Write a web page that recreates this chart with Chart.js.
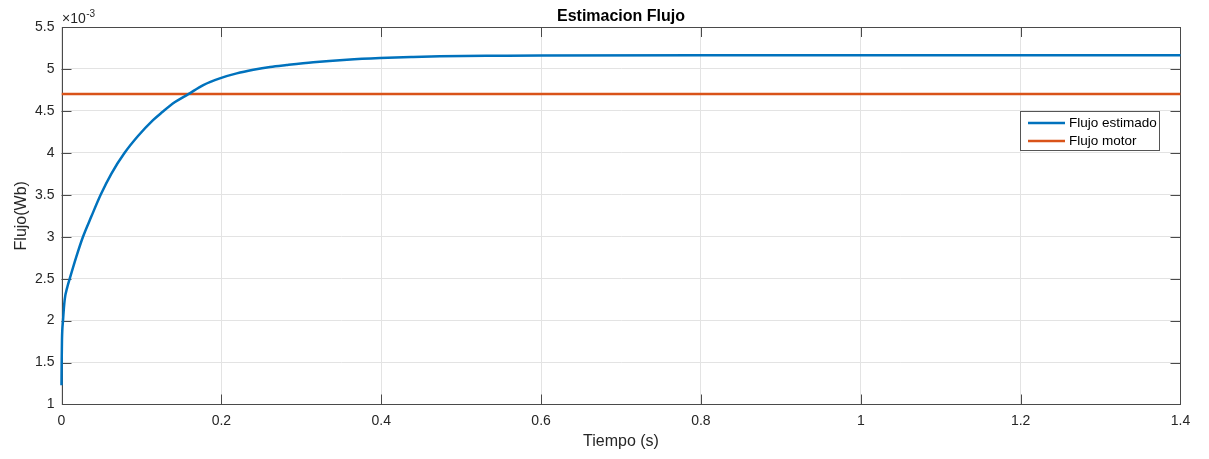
<!DOCTYPE html>
<html>
<head>
<meta charset="utf-8">
<title>Estimacion Flujo</title>
<script src="https://cdn.jsdelivr.net/npm/chart.js@4/dist/chart.umd.min.js"></script>
<style>
  html, body { margin: 0; padding: 0; background: #fff; }
  #wrap { width: 1209px; height: 459px; }
</style>
</head>
<body>
<div id="wrap"><canvas id="fluxChart" width="1209" height="459"></canvas></div>
<script>
// flux values are in units of 1e-3 Wb (shown as x10^-3 over the axis)
var tiempoEst = [0, 0.0002, 0.0006, 0.0019, 0.004, 0.0073, 0.0103, 0.0185, 0.0269, 0.0373,
                 0.049, 0.0623, 0.079, 0.0957, 0.1145, 0.1254, 0.142, 0.1587, 0.1774, 0.198,
                 0.2192, 0.24, 0.261, 0.2817, 0.315, 0.357, 0.3985, 0.44, 0.4735, 0.549,
                 0.6, 0.8, 1.0, 1.2, 1.4];
var flujoEst   = [1.23, 1.49, 1.77, 2.0, 2.25, 2.40, 2.50, 2.76, 3.00, 3.24,
                  3.50, 3.75, 4.00, 4.20, 4.39, 4.48, 4.605, 4.70, 4.808, 4.888,
                  4.947, 4.99, 5.024, 5.047, 5.08, 5.11, 5.13, 5.143, 5.151, 5.158,
                  5.161, 5.162, 5.162, 5.162, 5.162];
var tiempoMotor = [0, 1.4];
var flujoMotor  = [4.7, 4.7];

var xTicks = [0, 0.2, 0.4, 0.6, 0.8, 1, 1.2, 1.4];
var yTicks = [1, 1.5, 2, 2.5, 3, 3.5, 4, 4.5, 5, 5.5];

var FONT = "'Liberation Sans', Arial, Helvetica, sans-serif";
var AXIS_COLOR = '#4a4a4a';
var TEXT_COLOR = '#262626';

function toPoints(xs, ys){
	var pts = [];
	for (var i = 0; i < xs.length; i++) { pts.push({x: xs[i], y: ys[i]}); }
	return pts;
}

function fmt(v){ return String(+v.toFixed(2)); }

//box, inward ticks, title, exponent and legend like a matlab figure
var matlabAxes = {
	id: 'matlabAxes',
	beforeDatasetsDraw: function(chart){
		var ctx = chart.ctx, a = chart.chartArea;
		var sx = chart.scales.x, sy = chart.scales.y;
		var tl = 10;
		ctx.save();
		ctx.strokeStyle = AXIS_COLOR;
		ctx.lineWidth = 1;
		ctx.beginPath();
		xTicks.forEach(function(v){
			var px = Math.round(sx.getPixelForValue(v)) + 0.5;
			if (v === xTicks[0] || v === xTicks[xTicks.length-1]) return;
			ctx.moveTo(px, a.bottom); ctx.lineTo(px, a.bottom - tl);
			ctx.moveTo(px, a.top); ctx.lineTo(px, a.top + tl);
		});
		yTicks.forEach(function(v){
			var py = Math.round(sy.getPixelForValue(v)) + 0.5;
			if (v === yTicks[0] || v === yTicks[yTicks.length-1]) return;
			ctx.moveTo(a.left, py); ctx.lineTo(a.left + tl, py);
			ctx.moveTo(a.right, py); ctx.lineTo(a.right - tl, py);
		});
		ctx.stroke();
		ctx.strokeRect(Math.round(a.left) + 0.5, Math.round(a.top) + 0.5,
			Math.round(a.right - a.left) - 1, Math.round(a.bottom - a.top) - 1);
		ctx.restore();
	},
	afterDraw: function(chart){
		var ctx = chart.ctx, a = chart.chartArea;
		ctx.save();
		// title
		ctx.fillStyle = '#000';
		ctx.font = 'bold 16px ' + FONT;
		ctx.textAlign = 'center';
		ctx.textBaseline = 'alphabetic';
		ctx.fillText('Estimacion Flujo', (a.left + a.right) / 2, 21);
		// exponent of the y axis
		ctx.fillStyle = TEXT_COLOR;
		ctx.textAlign = 'left';
		ctx.font = '14px ' + FONT;
		ctx.fillText('\u00d710', a.left + 0.5, 22.5);
		var w = ctx.measureText('\u00d710').width;
		ctx.font = '10px ' + FONT;
		ctx.fillText('-3', a.left + 1 + w, 16.5);
		// legend box inside the axes
		var lx = 1020.5, ly = 111.5, lw = 139, lh = 39;
		ctx.fillStyle = '#fff';
		ctx.fillRect(lx, ly, lw, lh);
		ctx.strokeStyle = '#555';
		ctx.lineWidth = 1;
		ctx.strokeRect(lx, ly, lw, lh);
		ctx.font = '13.5px ' + FONT;
		ctx.textBaseline = 'middle';
		chart.data.datasets.forEach(function(ds, i){
			var cy = 123 + i * 18;
			ctx.strokeStyle = ds.borderColor;
			ctx.lineWidth = 2.5;
			ctx.beginPath();
			ctx.moveTo(1028, cy); ctx.lineTo(1065, cy);
			ctx.stroke();
			ctx.fillStyle = '#000';
			ctx.fillText(ds.label, 1069, cy + 0.5);
		});
		ctx.restore();
	}
};

new Chart(document.getElementById('fluxChart'), {
	type: 'line',
	data: {
		datasets: [{
			label: 'Flujo estimado',
			data: toPoints(tiempoEst, flujoEst),
			borderColor: '#0072BD',
			borderWidth: 2.5,
			pointRadius: 0,
			cubicInterpolationMode: 'monotone',
			clip: 3,
			fill: false
		}, {
			label: 'Flujo motor',
			data: toPoints(tiempoMotor, flujoMotor),
			borderColor: '#D95319',
			borderWidth: 2.5,
			pointRadius: 0,
			fill: false
		}]
	},
	options: {
		responsive: false,
		animation: false,
		devicePixelRatio: 1,
		layout: { padding: { left: 0, top: 27, right: 28.5, bottom: 0 } },
		plugins: {
			legend: { display: false },
			title: { display: false },
			tooltip: { enabled: false }
		},
		scales: {
			x: {
				type: 'linear',
				min: 0, max: 1.4,
				afterBuildTicks: function(s){ s.ticks = xTicks.map(function(v){ return {value: v}; }); },
				afterFit: function(s){ s.height = 54.5; },
				grid: { color: '#e3e3e3', drawTicks: false },
				border: { display: false },
				ticks: {
					padding: 8,
					color: TEXT_COLOR,
					font: { family: FONT, size: 14 },
					maxRotation: 0,
					callback: function(v){ return fmt(v); }
				},
				title: {
					display: true,
					text: 'Tiempo (s)',
					color: TEXT_COLOR,
					font: { family: FONT, size: 16 },
					padding: { top: 0, bottom: 8 }
				}
			},
			y: {
				min: 1, max: 5.5,
				afterBuildTicks: function(s){ s.ticks = yTicks.map(function(v){ return {value: v}; }); },
				afterFit: function(s){ s.width = 61.5; },
				grid: { color: '#e3e3e3', drawTicks: false },
				border: { display: false },
				ticks: {
					padding: 7,
					color: TEXT_COLOR,
					font: { family: FONT, size: 14 },
					callback: function(v){ return fmt(v); }
				},
				title: {
					display: true,
					text: 'Flujo(Wb)',
					color: TEXT_COLOR,
					font: { family: FONT, size: 16 },
					padding: { top: 12, bottom: 0 }
				}
			}
		}
	},
	plugins: [matlabAxes]
});
</script>
</body>
</html>
